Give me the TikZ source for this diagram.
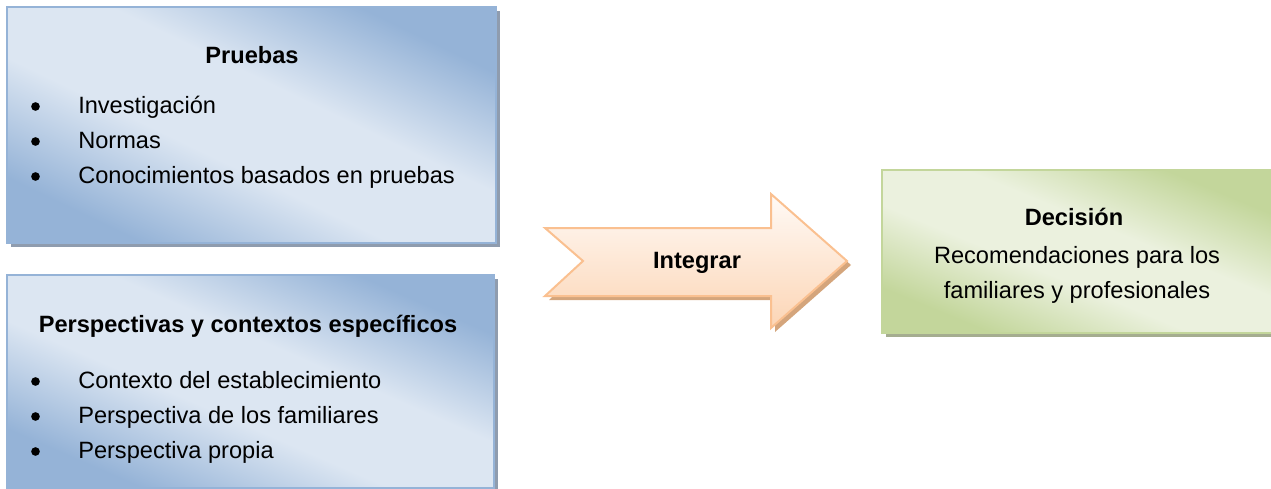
\documentclass[tikz,border=0pt]{standalone}
\usepackage{fontspec}
\setmainfont{Liberation Sans}
\usetikzlibrary{shadows}

\definecolor{bluelight}{HTML}{DCE6F2}
\definecolor{bluedark}{HTML}{95B3D7}
\definecolor{blueshadow}{HTML}{8F9CAE}
\definecolor{greenlight}{HTML}{EBF1DE}
\definecolor{greendark}{HTML}{C3D69B}
\definecolor{greenshadow}{HTML}{A5AD90}
\definecolor{peachtop}{HTML}{FFFAF6}
\definecolor{peachbot}{HTML}{FCD5B5}
\definecolor{peachline}{HTML}{FAC090}
\definecolor{peachshadow}{HTML}{D4A57C}

\pgfdeclareverticalshading{bluediag}{100bp}{color(0bp)=(bluedark); color(33bp)=(bluedark); color(45bp)=(bluelight); color(55bp)=(bluelight); color(67bp)=(bluedark); color(100bp)=(bluedark)}
\pgfdeclareverticalshading{greendiag}{100bp}{color(0bp)=(greendark); color(33bp)=(greendark); color(45bp)=(greenlight); color(55bp)=(greenlight); color(67bp)=(greendark); color(100bp)=(greendark)}

% diagonal shading of a box: node, shading, half width, half height
\newcommand{\boxshade}[4]{%
  \begin{scope}
    \clip (#1.south west) rectangle (#1.north east);
    \begin{scope}[transform canvas={shift={(#1.center)},xscale=#3,yscale=#4,rotate=-45}]
      \shade[shading=#2] (-1.5pt,-1.5pt) rectangle (1.5pt,1.5pt);
    \end{scope}
  \end{scope}}

\tikzset{
  txt/.style={font=\fontsize{17.7}{21}\selectfont, inner sep=0pt},
  title/.style={txt, font=\fontsize{17.7}{21}\selectfont\bfseries, anchor=base},
  item/.style={txt, anchor=base west},
  bul/.style={circle, fill=black, inner sep=0pt, minimum size=6.5pt},
  bluebox/.style={rectangle, fill=bluelight, outer sep=0pt,
    drop shadow={shadow xshift=3pt, shadow yshift=-3pt, fill=blueshadow, opacity=1}},
  greenbox/.style={rectangle, fill=greenlight, outer sep=0pt,
    drop shadow={shadow xshift=3pt, shadow yshift=-3pt, fill=greenshadow, opacity=1}},
  blueline/.style={draw=bluedark, line width=1.5pt},
  greenline/.style={draw=greendark, line width=1.5pt},
}

\begin{document}
\begin{tikzpicture}[x=0.75pt,y=-0.75pt]
        \useasboundingbox (0,0) rectangle (1271,489);

        % boxes
        \node[bluebox,minimum width=366.75pt,minimum height=177pt] (prue) at (251.5,125) {};
        \node[bluebox,minimum width=365.25pt,minimum height=159.75pt] (pers) at (250.5,381.5) {};
        \node[greenbox,minimum width=295.5pt,minimum height=122.25pt] (deci) at (1079,251.5) {};
        \boxshade{prue}{bluediag}{183.375}{88.5}
        \boxshade{pers}{bluediag}{182.625}{79.875}
        \boxshade{deci}{greendiag}{147.75}{61.125}
        \draw[blueline] (prue.south west) rectangle (prue.north east);
        \draw[blueline] (pers.south west) rectangle (pers.north east);
        \draw[greenline] (deci.south west) rectangle (deci.north east);

        % arrow
        \draw[draw=peachline,line width=1.5pt,top color=peachtop,bottom color=peachbot,
              drop shadow={shadow xshift=3pt,shadow yshift=-3pt,fill=peachshadow,opacity=1}]
            (545,228) -- (771,228) -- (771,194) -- (847,261) -- (771,328) -- (771,296)
            -- (545,296) -- (583,261) -- cycle;
        \node[title] (integ) at (697,268) {Integrar};

        % Pruebas
        \node[title] (prue_t) at (252,63) {Pruebas};
        \node[bul] (prue_b1) at (35.5,106.5) {};
        \node[bul] (prue_b2) at (35.5,141.5) {};
        \node[bul] (prue_b3) at (35.5,176.5) {};
        \node[item] (prue_1) at (78,113) {Investigación};
        \node[item] (prue_2) at (78,148) {Normas};
        \node[item] (prue_3) at (78,183) {Conocimientos basados en pruebas};

        % Perspectivas
        \node[title] (pers_t) at (248,332) {Perspectivas y contextos específicos};
        \node[bul] (pers_b1) at (35.5,381.5) {};
        \node[bul] (pers_b2) at (35.5,416.5) {};
        \node[bul] (pers_b3) at (35.5,451.5) {};
        \node[item] (pers_1) at (78,388) {Contexto del establecimiento};
        \node[item] (pers_2) at (78,423) {Perspectiva de los familiares};
        \node[item] (pers_3) at (78,458) {Perspectiva propia};

        % Decision
        \node[title] (deci_t) at (1074,225) {Decisión};
        \node[title,font=\fontsize{17.7}{21}\selectfont] (deci_1) at (1077,263) {Recomendaciones para los};
        \node[title,font=\fontsize{17.7}{21}\selectfont] (deci_2) at (1077,298) {familiares y profesionales};

    \end{tikzpicture}
\end{document}
